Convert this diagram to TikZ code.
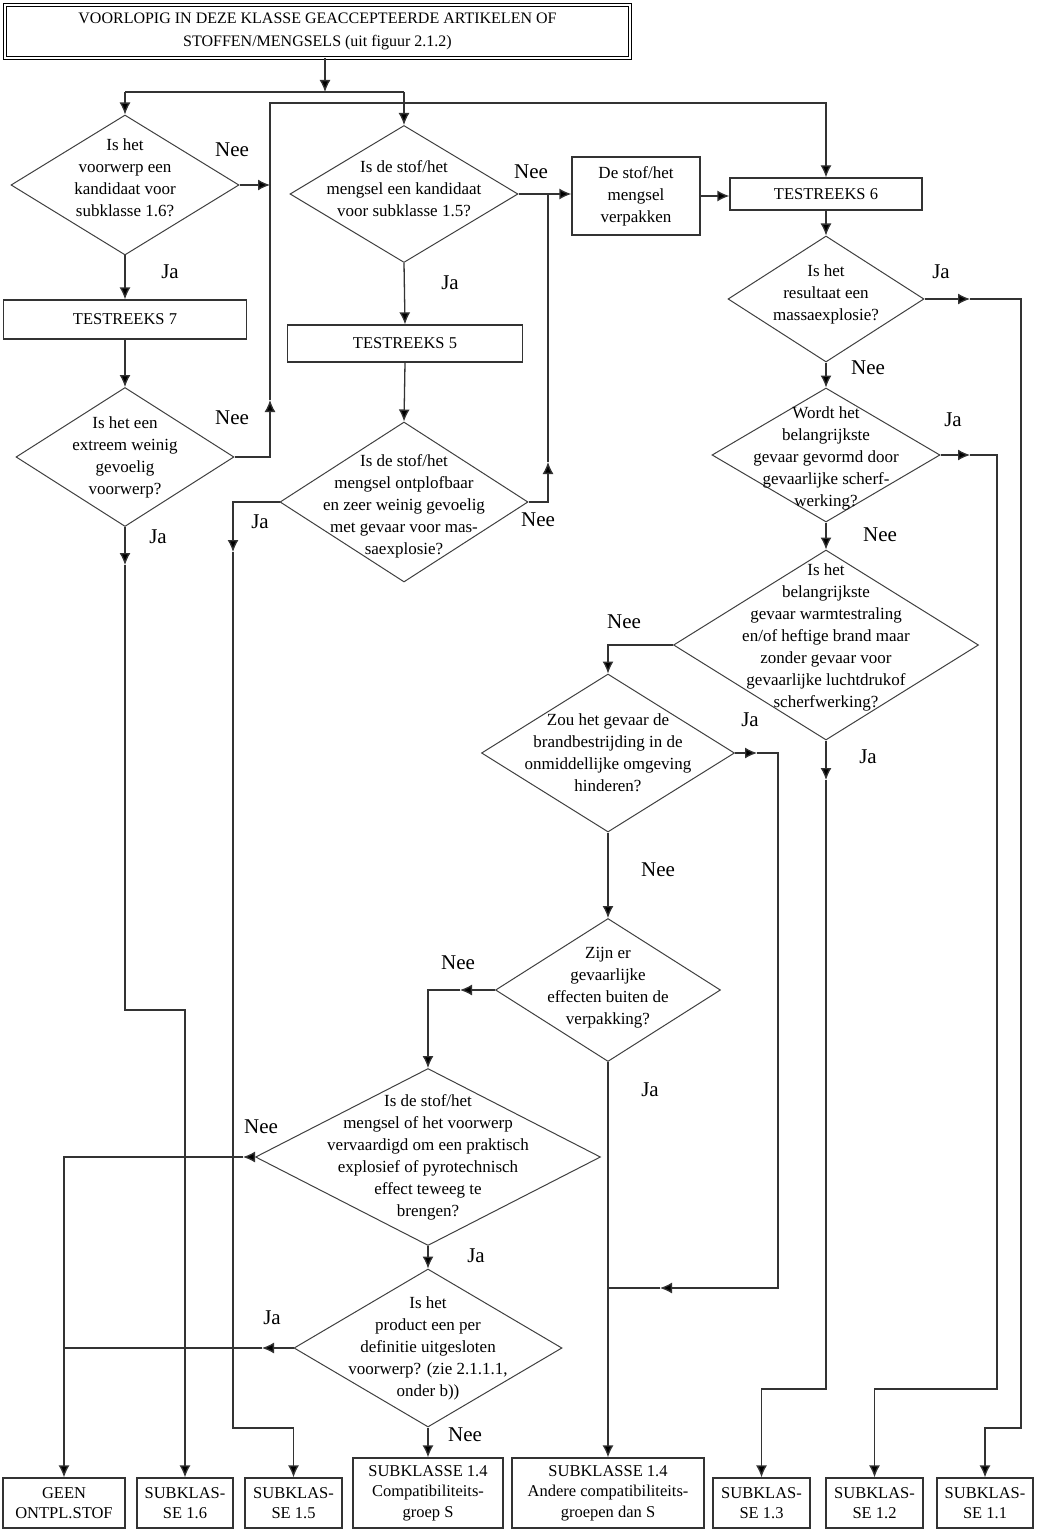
\documentclass[tikz,border=0pt]{standalone}
\usepackage{fontspec}
\setmainfont{Liberation Serif}
\usetikzlibrary{shapes.geometric,arrows.meta}
\newcommand\myDfont{\fontsize{17}{22}\selectfont}
\newcommand\myLfont{\fontsize{21}{24}\selectfont}
\newcommand\myBfont{\fontsize{16.5}{20.5}\selectfont}
\newcommand\myTfont{\fontsize{16}{23.5}\selectfont}
\begin{document}
\begin{tikzpicture}[x=1pt,y=-1pt,
  ln/.style={draw=black!80, line width=1.3pt},
  arr/.style={ln, -{Latex[length=12pt,width=11pt,fill=black]}},
  dia/.style 2 args={diamond, draw=black!75, line width=1pt, inner sep=0pt,
     minimum width=#1, minimum height=#2},
  dtxt/.style={align=center, font=\myDfont, inner sep=0pt},
  box/.style 2 args={draw=black!80, line width=1.3pt, align=center, inner sep=0pt,
     font=\myBfont, minimum width=#1, minimum height=#2},
  lab/.style={font=\myLfont, inner sep=0pt},
  topbox/.style={draw=black, line width=1pt, double, double distance=1.8pt,
     align=center, font=\myTfont, minimum width=625, minimum height=53, inner sep=0pt}
]
\useasboundingbox[fill=white] (0,0) rectangle (1036,1530);

% ---------- boxes ----------
\node[topbox] (top) at (317.5,31.5) {VOORLOPIG IN DEZE KLASSE GEACCEPTEERDE ARTIKELEN OF\\STOFFEN/MENGSELS (uit figuur 2.1.2)};
\node[box={243}{39}] (t7) at (125,319.5) {TESTREEKS 7};
\node[box={235}{37}] (t5) at (405,343.5) {TESTREEKS 5};
\node[box={128}{78}, font=\fontsize{17}{22}\selectfont] (verp) at (636,196) {De stof/het\\mengsel\\verpakken};
\node[box={192}{32}] (t6) at (826,194) {TESTREEKS 6};

\node[box={122}{50}] (geen) at (64,1503) {GEEN\\ONTPL.STOF};
\node[box={96}{50}] (s16) at (185,1503) {SUBKLAS-\\SE 1.6};
\node[box={97}{50}] (s15) at (293.5,1503) {SUBKLAS-\\SE 1.5};
\node[box={150}{70}] (s14s) at (428,1493) {SUBKLASSE 1.4\\Compatibiliteits-\\groep S};
\node[box={192}{70}] (s14a) at (608,1493) {SUBKLASSE 1.4\\Andere compatibiliteits-\\groepen dan S};
\node[box={97}{50}] (s13) at (761.5,1503) {SUBKLAS-\\SE 1.3};
\node[box={97}{50}] (s12) at (874.5,1503) {SUBKLAS-\\SE 1.2};
\node[box={96}{50}] (s11) at (985,1503) {SUBKLAS-\\SE 1.1};

% ---------- diamonds ----------
\node[dia={228}{140}, label={[dtxt, yshift=7pt]center:{Is het\\voorwerp een\\kandidaat voor\\subklasse 1.6?}}] (d1) at (125,185) {};
\node[dia={228}{137}, label={[dtxt, yshift=5pt]center:{Is de stof/het\\mengsel een kandidaat\\voor subklasse 1.5?}}] (d2) at (404,194) {};
\node[dia={218}{139}, label={[dtxt]center:{Is het een\\extreem weinig\\gevoelig\\voorwerp?}}] (d3) at (125,457) {};
\node[dia={248}{160}, label={[dtxt, yshift=-4pt]center:{Is de stof/het\\mengsel ontplofbaar\\en zeer weinig gevoelig\\met gevaar voor mas-\\saexplosie?}}] (d4) at (404,502) {};
\node[dia={196}{126}, label={[dtxt, yshift=5pt]center:{Is het\\resultaat een\\massaexplosie?}}] (d5) at (826,299) {};
\node[dia={228}{134}, label={[dtxt, yshift=-3pt]center:{Wordt het\\belangrijkste\\gevaar gevormd door\\gevaarlijke scherf-\\werking?}}] (d6) at (826,455) {};
\node[dia={305}{190}, label={[dtxt, yshift=8pt]center:{Is het\\belangrijkste\\gevaar warmtestraling\\en/of heftige brand maar\\zonder gevaar voor\\gevaarlijke luchtdrukof\\scherfwerking?}}] (d7) at (826,645) {};
\node[dia={253}{158}, label={[dtxt]center:{Zou het gevaar de\\brandbestrijding in de\\onmiddellijke omgeving\\hinderen?}}] (d8) at (608,753) {};
\node[dia={225}{143}, label={[dtxt, yshift=2pt]center:{Zijn er\\gevaarlijke\\effecten buiten de\\verpakking?}}] (d9) at (608,990) {};
\node[dia={345}{177}, label={[dtxt]center:{Is de stof/het\\mengsel of het voorwerp\\vervaardigd om een praktisch\\explosief of pyrotechnisch\\effect teweeg te\\brengen?}}] (d10) at (428,1157) {};
\node[dia={268}{158}, label={[dtxt]center:{Is het\\product een per\\definitie uitgesloten\\voorwerp? (zie 2.1.1.1,\\onder b))}}] (d11) at (428,1348) {};

% ---------- labels ----------
\node[lab] (l1) at (232,150) {Nee};
\node[lab] (l2) at (170,272) {Ja};
\node[lab] (l3) at (531,172) {Nee};
\node[lab] (l4) at (450,283) {Ja};
\node[lab] (l5) at (232,418) {Nee};
\node[lab] (l6) at (158,537) {Ja};
\node[lab] (l7) at (260,522) {Ja};
\node[lab] (l8) at (538,520) {Nee};
\node[lab] (l9) at (941,272) {Ja};
\node[lab] (l10) at (868,368) {Nee};
\node[lab] (l11) at (953,420) {Ja};
\node[lab] (l12) at (880,535) {Nee};
\node[lab] (l13) at (624,622) {Nee};
\node[lab] (l14) at (868,757) {Ja};
\node[lab] (l15) at (750,720) {Ja};
\node[lab] (l16) at (658,870) {Nee};
\node[lab] (l17) at (458,963) {Nee};
\node[lab] (l18) at (650,1090) {Ja};
\node[lab] (l19) at (261,1127) {Nee};
\node[lab] (l20) at (476,1256) {Ja};
\node[lab] (l21) at (272,1318) {Ja};
\node[lab] (l22) at (465,1435) {Nee};

% ---------- coordinates ----------
\coordinate (j0) at (325,92);
\coordinate (c1) at (270,103);
\coordinate (c3) at (270,457);
\coordinate (c4) at (270,400);
\coordinate (c5) at (548,194);
\coordinate (c6) at (548,462);
\coordinate (c7) at (233,502);
\coordinate (c8) at (233,552);
\coordinate (c9) at (233,1428);
\coordinate (c10) at (293.5,1428);
\coordinate (c11) at (125,565);
\coordinate (c12) at (125,1010);
\coordinate (c13) at (185,1010);
\coordinate (c14) at (1021,299);
\coordinate (c15) at (970,299);
\coordinate (c16) at (1021,1428);
\coordinate (c17) at (985,1428);
\coordinate (c18) at (970,455);
\coordinate (c19) at (997,455);
\coordinate (c20) at (997,1389);
\coordinate (c21) at (874.5,1389);
\coordinate (c22) at (608,645);
\coordinate (c23) at (826,780);
\coordinate (c24) at (826,1389);
\coordinate (c25) at (761.5,1389);
\coordinate (c26) at (778,753);
\coordinate (c27) at (778,1288);
\coordinate (c28) at (608,1288);
\coordinate (c29) at (660,1288);
\coordinate (c30) at (757,753);
\coordinate (c31) at (460,990);
\coordinate (c32) at (428,990);
\coordinate (c33) at (243,1157);
\coordinate (c34) at (64,1157);
\coordinate (c35) at (262,1348);
\coordinate (c36) at (64,1348);

% ---------- connectors ----------
\draw[arr] (top.south -| j0) -- (j0);
\draw[ln] (d1.north |- j0) -- (d2.north |- j0);
\draw[arr] (d1.north |- j0) -- (d1.north);
\draw[arr] (d2.north |- j0) -- (d2.north);

\draw[arr] (d1.east) -- (d1.east -| c1);
\draw[arr] (d3.east) -- (c3) -- (c4);
\draw[arr] (c4) -- (c1) -- (t6.north |- c1) -- (t6.north);

\draw[arr] (d1.south) -- (t7.north);
\draw[arr] (t7.south) -- (d3.north);
\draw[arr] (d3.south) -- (c11);
\draw[arr] (c11) -- (c12) -- (c13) -- (s16.north);

\draw[arr] (d2.south) -- (t5.north);
\draw[arr] (t5.south) -- (d4.north);
\draw[arr] (d2.east) -- (d2.east -| verp.west);
\draw[arr] (d4.east) -- (d4.east -| c6) -- (c6);
\draw[ln] (c6) -- (c5);
\draw[arr] (d4.west) -- (c7) -- (c8);
\draw[arr] (c8) -- (c9) -- (c10) -- (s15.north);

\draw[arr] (verp.east) -- (verp.east -| t6.west);
\draw[arr] (t6.south) -- (d5.north);
\draw[arr] (d5.east) -- (c15);
\draw[arr] (c15) -- (c14) -- (c16) -- (c17) -- (s11.north);
\draw[arr] (d5.south) -- (d6.north);
\draw[arr] (d6.east) -- (c18);
\draw[arr] (c18) -- (c19) -- (c20) -- (c21) -- (s12.north);
\draw[arr] (d6.south) -- (d7.north);
\draw[arr] (d7.west) -- (c22) -- (d8.north);
\draw[arr] (d7.south) -- (c23);
\draw[arr] (c23) -- (c24) -- (c25) -- (s13.north);

\draw[arr] (d8.east) -- (c30);
\draw[arr] (c30) -- (c26) -- (c27) -- (c29);
\draw[ln] (c29) -- (c28);
\draw[arr] (d8.south) -- (d9.north);
\draw[arr] (d9.west) -- (c31);
\draw[arr] (c31) -- (c32) -- (d10.north);
\draw[arr] (d9.south) -- (s14a.north);
\draw[arr] (d10.west) -- (c33);
\draw[arr] (c33) -- (c34) -- (geen.north);
\draw[arr] (d10.south) -- (d11.north);
\draw[arr] (d11.west) -- (c35);
\draw[ln] (c35) -- (c36);
\draw[arr] (d11.south) -- (s14s.north);
\end{tikzpicture}
\end{document}
